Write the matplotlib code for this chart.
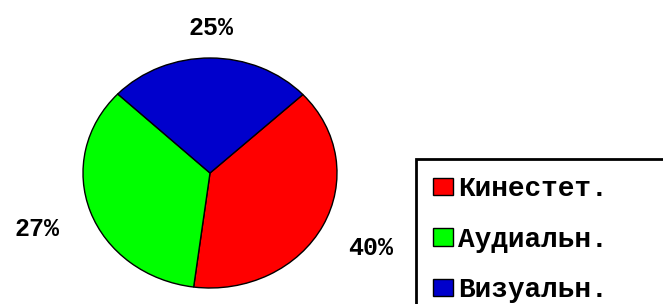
import matplotlib.pyplot as plt
import numpy as np

# shares as drawn (the wedges), and the percent texts written next to them
categories = ["Кинестет.", "Аудиальн.", "Визуальн."]
shares = [39, 35, 26]
pct_labels = ["40%", "27%", "25%"]
colors = ["#ff0000", "#00ff00", "#0000cc"]

label_dist = [1.42, 1.45, 1.26]

W, H = 663, 304
fig = plt.figure(figsize=(W / 100, H / 100), dpi=100)
fig.patch.set_facecolor("white")

# pie is slightly squashed: centre (210,173), rx 127, ry 115 in pixels
cx, cy, rx, ry = 210, 173, 127, 115
ax = fig.add_axes([(cx - rx) / W, (H - cy - ry) / H, 2 * rx / W, 2 * ry / H])

wedges, _ = ax.pie(shares, colors=colors, startangle=43, counterclock=False,
                   wedgeprops=dict(edgecolor="black", linewidth=1.0))
ax.set_aspect("auto")
ax.set_xlim(-1, 1)
ax.set_ylim(-1, 1)
ax.axis("off")

font = "Liberation Mono"
for w, txt, d in zip(wedges, pct_labels, label_dist):
    a = np.deg2rad((w.theta1 + w.theta2) / 2)
    ax.text(d * np.cos(a), d * np.sin(a), txt, ha="center", va="center",
            fontsize=18, fontweight="bold", family=font, clip_on=False)

# legend box runs off the right and bottom edge like in the original
leg = ax.legend(wedges, categories, loc="upper left", mode="expand",
                bbox_to_anchor=(416 / W, 1 - 159 / H, 300 / W, 0),
                bbox_transform=fig.transFigure,
                borderaxespad=0, fancybox=False, framealpha=1,
                prop=dict(family=font, weight="bold", size=20),
                handlelength=0.72, handleheight=0.6, handletextpad=0.18,
                borderpad=0.62, labelspacing=0.88)
leg.get_frame().set_edgecolor("black")
leg.get_frame().set_linewidth(2)

fig.savefig("out.png", dpi=100)
